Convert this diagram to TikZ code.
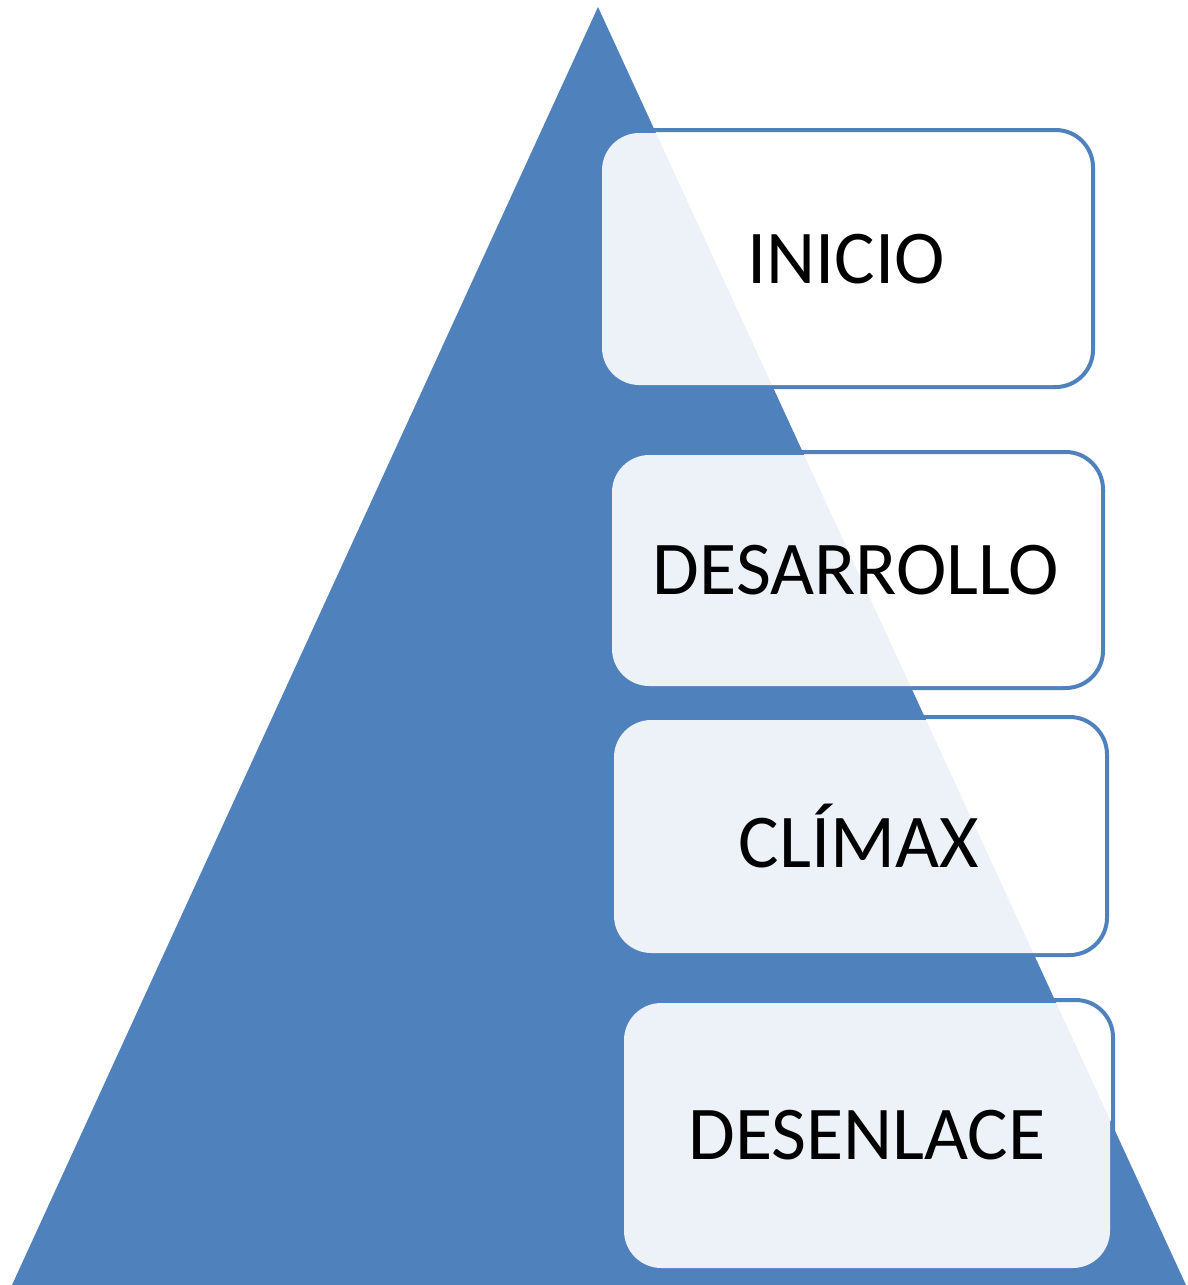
\documentclass[tikz,border=0pt]{standalone}
\usepackage{fontspec}
\setmainfont{Carlito}
\definecolor{azul}{HTML}{4F81BD}
\tikzset{ tri/.style = { fill = azul % pyramid
                       }
        , borde/.style = { draw = azul % stage outline
                         , line width = 3pt
                         , rounded corners = 28pt
                         }
        , caja/.style = { rectangle % stage box
                        , rounded corners = 28pt
                        , fill = white
                        , fill opacity = 0.9
                        , text opacity = 1
                        , inner sep = 0pt
                        , outer sep = 0pt
                        , font = \fontsize{57}{68}\selectfont
                        }
        }
\def\etapa(#1,#2,#3,#4)#5#6{% stage: fill corners, label, name
    \pgfmathsetmacro{\w}{0.75*(#3-#1)}
    \pgfmathsetmacro{\h}{0.75*(#4-#2)}
    \draw[borde] (#1+5,#2-3) rectangle (#3+3,#4+2);
    \node[caja, minimum width=\w pt, minimum height=\h pt] (#6) at ({(#1+#3)/2},{(#2+#4)/2}) {#5};
}
\begin{document}
\begin{tikzpicture}[x=0.75pt, y=-0.75pt]
                    \useasboundingbox (0,0) rectangle (1188,1285);
                    \coordinate (cima) at (598,7);
                    \coordinate (der) at (1186,1285);
                    \coordinate (izq) at (12,1285);
                    \fill[tri] (cima) -- (der) -- (izq) -- cycle;

                    \foreach \a/\b/\c/\d/\t/\n in { 602/133/1090/385/INICIO/inicio
                                                  , 612/455/1100/686/DESARROLLO/desarrollo
                                                  , 614/720/1104/953/CLÍMAX/climax
                                                  , 624/1003/1110/1268/DESENLACE/desenlace}
                        \etapa(\a,\b,\c,\d){\t}{\n};
                \end{tikzpicture}
\end{document}
